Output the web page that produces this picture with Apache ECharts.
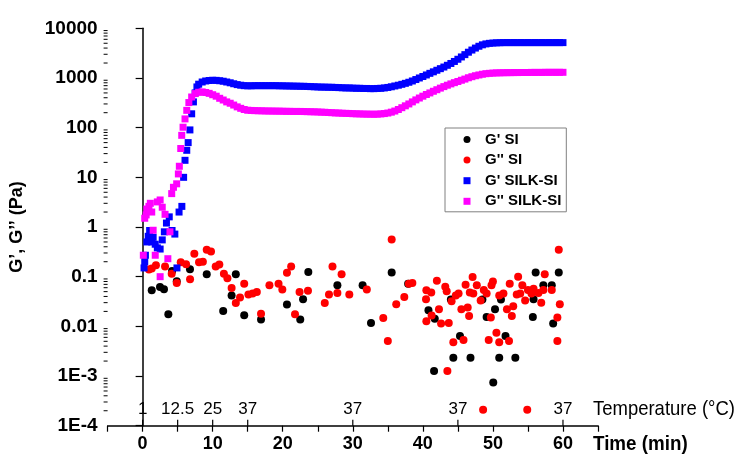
<!DOCTYPE html>
<html>
<head>
<meta charset="utf-8">
<script src="https://cdn.jsdelivr.net/npm/echarts@6.0.0/dist/echarts.min.js"></script>
<style>html,body{margin:0;padding:0;background:#fff}#c{width:748px;height:458px}</style>
</head>
<body>
<div id="c"></div>
<script>
// ---------- data (time in min, modulus in Pa) ----------
const seriesNames = ["G' SI", "G'' SI", "G' SILK-SI", "G'' SILK-SI"];

const gPrimeSI = [
  [1.3,0.053],[2.48,0.062],[3.05,0.056],[3.67,0.0175],[4.2,0.13],[4.87,0.081],[6.76,0.141],[9.15,0.112],
  [11.5,0.0204],[12.7,0.042],[13.3,0.112],[14.5,0.0167],[16.9,0.0137],[20.6,0.0275],[22.5,0.0137],
  [22.9,0.035],[23.65,0.124],[27.8,0.067],[31.4,0.067],[32.6,0.0117],[35.55,0.121],[37.9,0.072],
  [40.8,0.021],[41.6,0.00126],[41.7,0.0143],[44.0,0.0347],[44.35,0.00234],[45.3,0.0064],[46.8,0.00234],
  [48.5,0.0347],[49.1,0.0155],[50.05,0.00074],[50.3,0.022],[50.9,0.00234],[51.15,0.0347],[51.8,0.0064],
  [53.2,0.00234],[55.7,0.0155],[55.8,0.035],[56.1,0.121],[57.2,0.067],[58.4,0.067],[58.6,0.0114],[59.4,0.121]
];

const gDoublePrimeSI = [
  [0.9,0.14],[1.3,0.146],[1.9,0.17],[3.2,0.16],[4.15,0.115],[4.87,0.075],[5.44,0.195],[6.2,0.178],
  [6.77,0.089],[7.38,0.29],[8.05,0.195],[8.6,0.2],[9.15,0.35],[9.76,0.32],[10.43,0.16],[10.95,0.175],
  [11.6,0.115],[12.1,0.093],[12.7,0.059],[13.3,0.0296],[13.9,0.038],[14.5,0.072],[15.1,0.044],[15.7,0.046],
  [16.3,0.049],[16.9,0.018],[18.1,0.067],[19.4,0.072],[19.94,0.055],[20.6,0.12],[21.2,0.16],[21.75,0.0175],
  [22.4,0.049],[23.6,0.052],[26.0,0.0296],[26.6,0.044],[27.1,0.16],[27.8,0.047],[28.4,0.112],[29.5,0.044],
  [32.0,0.055],[34.35,0.0148],[35.0,0.0051],[35.55,0.56],[36.2,0.0278],[37.35,0.039],[38.0,0.072],[38.5,0.075],
  [40.45,0.035],[40.5,0.053],[40.5,0.0126],[41.2,0.048],[41.25,0.0165],[42.0,0.083],[42.3,0.022],[42.6,0.0114],
  [43.2,0.063],[43.4,0.051],[43.5,0.00126],[43.7,0.0117],[44.1,0.032],[44.35,0.0048],[44.7,0.042],[45.1,0.046],
  [45.5,0.022],[45.8,0.0053],[46.1,0.069],[46.4,0.024],[46.6,0.0162],[46.7,0.048],[47.1,0.099],[47.2,0.046],
  [47.7,0.067],[48.25,0.033],[48.6,0.00021],[48.7,0.054],[49.1,0.046],[49.4,0.0053],[49.7,0.0151],[49.8,0.067],
  [50.0,0.08],[50.5,0.0074],[50.9,0.042],[50.9,0.0048],[51.5,0.046],[52.0,0.022],[52.3,0.0051],[52.4,0.072],
  [52.7,0.0162],[52.9,0.0253],[53.4,0.044],[53.6,0.1],[53.9,0.046],[54.2,0.067],[54.6,0.033],[54.9,0.00021],
  [55.0,0.054],[55.5,0.046],[55.8,0.057],[56.5,0.047],[56.9,0.03],[57.2,0.054],[57.4,0.112],[58.4,0.054],
  [59.2,0.0151],[59.2,0.0051],[59.4,0.35],[59.55,0.0278]
];

const gPrimeSILK = [
  [0.2,0.15],[0.3,0.2],[0.4,0.27],[0.6,0.5],[0.8,0.65],[1.0,0.85],[1.3,0.5],[1.5,0.62],[1.8,0.45],[2.1,0.38],
  [2.5,0.36],[2.8,0.55],[3.1,0.8],[3.4,1.2],[3.8,1.6],[4.2,0.85],[4.6,0.72],[4.9,0.15],[5.2,2.0],[5.6,2.6],
  [5.85,10],[6.05,22],[6.3,35],[6.5,50],[6.75,90],[7.0,190],[7.25,330],[7.5,500],[7.75,660],
  [8.0,750],[8.5,830],[9.0,870],[9.5,890],[10.0,900],[10.5,895],[11.0,880],[11.5,860],[12.0,830],[12.5,800],
  [13.0,765],[13.5,735],[14.0,715],[14.5,700],[15.0,695],[15.5,695],[16.0,700],[16.5,700],[17.0,700],[17.5,700],
  [18.0,700],[18.5,700],[19.0,700],[19.5,695],[20.0,695],[20.5,690],[21.0,690],[21.5,685],[22.0,685],[22.5,680],
  [23.0,680],[23.5,675],[24.0,670],[24.5,665],[25.0,660],[25.5,655],[26.0,655],[26.5,650],[27.0,650],[27.5,645],
  [28.0,640],[28.5,635],[29.0,630],[29.5,630],[30.0,625],[30.5,620],[31.0,620],[31.5,615],[32.0,615],[32.5,610],
  [33.0,610],[33.5,615],[34.0,620],[34.5,630],[35.0,645],[35.5,665],[36.0,690],[36.5,715],[37.0,745],[37.5,780],
  [38.0,820],[38.5,870],[39.0,930],[39.5,1000],[40.0,1070],[40.5,1150],[41.0,1240],[41.5,1330],[42.0,1430],
  [42.5,1540],[43.0,1660],[43.5,1800],[44.0,1960],[44.5,2150],[45.0,2380],[45.5,2650],[46.0,2950],[46.5,3300],
  [47.0,3650],[47.5,4000],[48.0,4350],[48.5,4650],[49.0,4850],[49.5,4980],[50.0,5050],[50.5,5100],[51.0,5120],
  [51.5,5150],[52.0,5150],[52.5,5150],[53.0,5150],[53.5,5150],[54.0,5150],[54.5,5150],[55.0,5150],[55.5,5150],
  [56.0,5150],[56.5,5150],[57.0,5150],[57.5,5150],[58.0,5150],[58.5,5150],[59.0,5150],[59.5,5150],[60.0,5150]
];

const gDoublePrimeSILK = [
  [0.1,0.27],[0.3,1.5],[0.5,1.75],[0.6,2.3],[0.9,2.6],[1.1,3.0],[1.3,2.0],[1.5,0.86],[1.8,0.27],[2.1,3.2],
  [2.5,3.5],[2.5,0.1],[2.8,2.5],[3.2,1.8],[3.6,0.23],[3.9,0.8],[4.15,4.7],[4.4,6.3],[4.86,7.4],[5.1,11.7],
  [5.24,16.7],[5.44,38],[5.58,70],[5.77,102],[6.05,150],[6.3,223],[6.6,320],[7.0,414],[7.5,485],
  [8.0,515],[8.5,525],[9.0,510],[9.5,490],[10.0,460],[10.5,430],[11.0,390],[11.5,360],[12.0,330],[12.5,310],
  [13.0,285],[13.5,262],[14.0,245],[14.5,232],[15.0,224],[15.5,222],[16.0,220],[16.5,219],[17.0,218],[17.5,217],
  [18.0,216],[18.5,216],[19.0,215],[19.5,215],[20.0,214],[20.5,213],[21.0,213],[21.5,212],[22.0,212],[22.5,212],
  [23.0,211],[23.5,210],[24.0,209],[24.5,208],[25.0,207],[25.5,205],[26.0,204],[26.5,202],[27.0,200],[27.5,198],
  [28.0,197],[28.5,195],[29.0,194],[29.5,193],[30.0,191],[30.5,190],[31.0,189],[31.5,188],[32.0,187],[32.5,187],
  [33.0,186],[33.5,187],[34.0,189],[34.5,192],[35.0,197],[35.5,205],[36.0,216],[36.5,232],[37.0,252],[37.5,275],
  [38.0,300],[38.5,330],[39.0,362],[39.5,395],[40.0,430],[40.5,465],[41.0,500],[41.5,540],[42.0,580],[42.5,625],
  [43.0,670],[43.5,715],[44.0,760],[44.5,805],[45.0,850],[45.5,900],[46.0,950],[46.5,1010],[47.0,1060],[47.5,1110],
  [48.0,1150],[48.5,1190],[49.0,1220],[49.5,1240],[50.0,1255],[50.5,1265],[51.0,1270],[51.5,1275],[52.0,1280],
  [52.5,1280],[53.0,1285],[53.5,1285],[54.0,1290],[54.5,1290],[55.0,1290],[55.5,1295],[56.0,1295],[56.5,1295],
  [57.0,1295],[57.5,1300],[58.0,1300],[58.5,1300],[59.0,1300],[59.5,1300],[60.0,1300]
];

// tick labels
const yTickLabels = ['1E-4','1E-3','0.01','0.1','1','10','100','1000','10000'];
const timeTickLabels = [0,10,20,30,40,50,60];
const tempTickTimes = [0,5,10,15,30,45,60];
const tempTickLabels = ['1','12.5','25','37','37','37','37'];
const minorMultipliers = [2,3,4,5,6,7,8,9];
const decades = [-4,-3,-2,-1,0,1,2,3];

const minorTickData = [];
decades.forEach(d => minorMultipliers.forEach(m => minorTickData.push([-5, m * Math.pow(10, d)])));
const tempTickData = tempTickTimes.map(t => [t, 0.0001]);

const arial = '"Liberation Sans", Arial, sans-serif';

const chart = echarts.init(document.getElementById('c'), null, {renderer: 'canvas'});
chart.setOption({
  animation: false,
  backgroundColor: '#ffffff',
  grid: {left: 107.6, right: 150, top: 28.3, bottom: 32.3, containLabel: false, outerBoundsMode: 'none'},
  legend: {
    data: seriesNames,
    orient: 'vertical', left: 445, top: 128,
    itemWidth: 7, itemHeight: 7, itemGap: 5.6,
    padding: [4, 5, 3, 18.5],
    borderColor: '#808080', borderWidth: 1,
    textStyle: {fontFamily: arial, fontWeight: 'bold', fontSize: 15, color: '#000', padding: [0, 0, 0, 9.5]}
  },
  xAxis: [
    {
      type: 'value', min: -5, max: 65, interval: 5,
      axisLine: {onZero: false, lineStyle: {color: '#000', width: 1.5}},
      axisTick: {length: 6, lineStyle: {color: '#000', width: 1.2}},
      splitLine: {show: false},
      axisLabel: {
        margin: 9, color: '#000', fontFamily: arial, fontWeight: 'bold', fontSize: 18,
        formatter: v => timeTickLabels.indexOf(v) >= 0 ? String(v) : ''
      }
    },
    {
      type: 'value', min: -5, max: 65, position: 'bottom',
      axisLine: {show: false, onZero: false},
      axisTick: {show: false},
      splitLine: {show: false},
      axisLabel: {
        inside: true, margin: 8, color: '#000', fontFamily: arial, fontSize: 17,
        customValues: tempTickTimes,
        formatter: v => { const i = tempTickTimes.indexOf(v); return i >= 0 ? tempTickLabels[i] : ''; }
      }
    }
  ],
  yAxis: {
    type: 'log', logBase: 10, min: 0.0001, max: 10000, interval: 1,
    name: 'G’, G’’ (Pa)', nameLocation: 'middle', nameGap: 82,
    nameTextStyle: {fontFamily: arial, fontWeight: 'bold', fontSize: 18, color: '#000'},
    axisLine: {show: true, lineStyle: {color: '#000', width: 1.5}},
    axisTick: {show: true, length: 7, lineStyle: {color: '#000', width: 1.2}},
    splitLine: {show: false},
    axisLabel: {
      margin: 10, color: '#000', fontFamily: arial, fontWeight: 'bold', fontSize: 19,
      showMinLabel: true, showMaxLabel: true,
      formatter: v => yTickLabels[Math.round(Math.log10(v)) + 4]
    }
  },
  series: [
    {name: seriesNames[0], type: 'scatter', symbol: 'circle', symbolSize: 8, data: gPrimeSI, itemStyle: {color: '#000000', opacity: 1}},
    {name: seriesNames[1], type: 'scatter', symbol: 'circle', symbolSize: 8, data: gDoublePrimeSI, itemStyle: {color: '#ff0000', opacity: 1}},
    {name: seriesNames[2], type: 'scatter', symbol: 'rect', symbolSize: 7, data: gPrimeSILK, itemStyle: {color: '#0000ff', opacity: 1}},
    {name: seriesNames[3], type: 'scatter', symbol: 'rect', symbolSize: 7, data: gDoublePrimeSILK, itemStyle: {color: '#ff00ff', opacity: 1}},
    {
      name: 'minorTicks', type: 'custom', silent: true, clip: false, data: minorTickData, z: 5,
      renderItem: (params, api) => {
        const p = api.coord([api.value(0), api.value(1)]);
        return {type: 'line', shape: {x1: p[0] - 4, y1: p[1], x2: p[0], y2: p[1]}, style: {stroke: '#000', lineWidth: 1}};
      }
    },
    {
      name: 'tempTicks', type: 'custom', silent: true, clip: false, data: tempTickData, z: 5,
      renderItem: (params, api) => {
        const p = api.coord([api.value(0), api.value(1)]);
        return {type: 'line', shape: {x1: p[0], y1: p[1] - 6, x2: p[0], y2: p[1]}, style: {stroke: '#000', lineWidth: 1.2}};
      }
    }
  ],
  graphic: [
    {type: 'text', x: 593, y: 409, scaleX: 0.88, style: {text: 'Temperature (°C)', font: '21px ' + arial, fill: '#000', verticalAlign: 'middle'}},
    {type: 'text', x: 593, y: 444, scaleX: 0.895, style: {text: 'Time (min)', font: 'bold 21px ' + arial, fill: '#000', verticalAlign: 'middle'}}
  ]
});
</script>
</body>
</html>
